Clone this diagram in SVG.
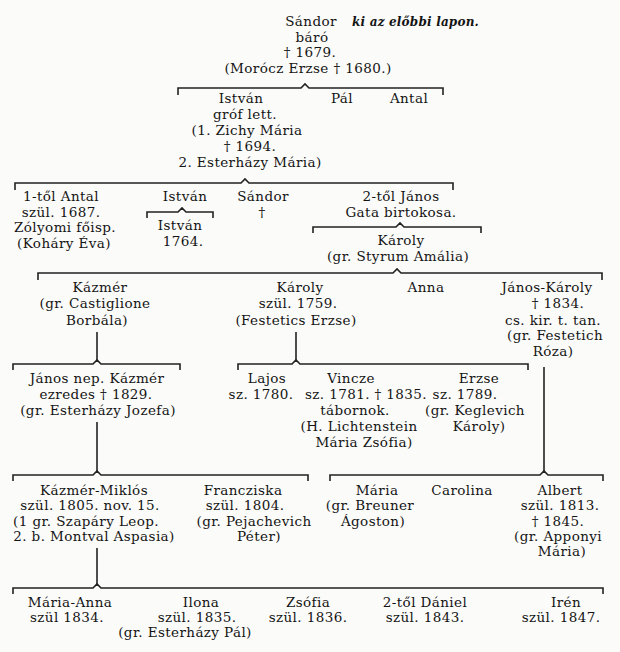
<svg xmlns="http://www.w3.org/2000/svg" width="620" height="652" viewBox="0 0 620 652">
<style>
text{font-family:"DejaVu Serif","Liberation Serif",serif;font-size:13.5px;letter-spacing:0.4px;fill:#141414;text-anchor:middle}
.it{font-style:italic;font-weight:bold;font-size:12px;letter-spacing:0.2px;text-anchor:start}
.br{fill:none;stroke:#222;stroke-width:1.6}
</style>
<rect width="620" height="652" fill="#fbfbf9"/>
<g id="connectors" class="br">
<path d="M178 95V88H301L305 84L309 88H443V95"/>
<path d="M15 190V183H241L245 179L249 183H453V190"/>
<path d="M147 218V212H178L182 208L186 212H213V218"/>
<path d="M313 233V227H396L400 223L404 227H481V233"/>
<path d="M38 280V273H393L397 269L401 273H602V280"/>
<path d="M97 332V361"/>
<path d="M296 332V361"/>
<path d="M13 370V364H93L97 360L101 364H180V370"/>
<path d="M238 370V364H292L296 360L300 364H528V370"/>
<path d="M97 422V472"/>
<path d="M544 367V472"/>
<path d="M13 481V475H93L97 471L101 475H308V481"/>
<path d="M330 481V475H540L544 471L548 475H603V481"/>
<path d="M97 548V584"/>
<path d="M13 594V588H93L97 584L101 588H603V594"/>
</g>
<g id="sandor">
<text x="311" y="26">Sándor</text>
<text x="312" y="42">báró</text>
<text x="310" y="57">† 1679.</text>
<text x="308" y="73">(Morócz Erzse † 1680.)</text>
</g>
<g id="note"><text class="it" x="352" y="26">ki az előbbi lapon.</text></g>
<g id="istvan1">
<text x="241" y="103">István</text>
<text x="245" y="119">gróf lett.</text>
<text x="247" y="135">(1. Zichy Mária</text>
<text x="250" y="151">† 1694.</text>
<text x="250" y="167">2. Esterházy Mária)</text>
</g>
<g id="pal"><text x="342" y="103">Pál</text></g>
<g id="antal1"><text x="409" y="103">Antal</text></g>
<g id="antal2">
<text x="61" y="201">1-től Antal</text>
<text x="61" y="217">szül. 1687.</text>
<text x="65" y="232">Zólyomi főisp.</text>
<text x="64" y="248">(Koháry Éva)</text>
</g>
<g id="istvan2"><text x="185" y="201">István</text></g>
<g id="istvan3">
<text x="180" y="230">István</text>
<text x="183" y="246">1764.</text>
</g>
<g id="sandor2">
<text x="263" y="201">Sándor</text>
<text x="262" y="217">†</text>
</g>
<g id="janos1">
<text x="401" y="201">2-től János</text>
<text x="401" y="217">Gata birtokosa.</text>
</g>
<g id="karoly1">
<text x="401" y="245">Károly</text>
<text x="398" y="261">(gr. Styrum Amália)</text>
</g>
<g id="kazmer1">
<text x="100" y="292">Kázmér</text>
<text x="95" y="308">(gr. Castiglione</text>
<text x="97" y="325">Borbála)</text>
</g>
<g id="karoly2">
<text x="300" y="292">Károly</text>
<text x="298" y="308">szül. 1759.</text>
<text x="296" y="325">(Festetics Erzse)</text>
</g>
<g id="anna"><text x="426" y="292">Anna</text></g>
<g id="janoskaroly">
<text x="547" y="292">János-Károly</text>
<text x="558" y="308">† 1834.</text>
<text x="553" y="325">cs. kir. t. tan.</text>
<text x="555" y="340">(gr. Festetich</text>
<text x="553" y="356">Róza)</text>
</g>
<g id="janosnep">
<text x="97" y="383">János nep. Kázmér</text>
<text x="96" y="399">ezredes † 1829.</text>
<text x="98" y="415">(gr. Esterházy Jozefa)</text>
</g>
<g id="lajos">
<text x="267" y="383">Lajos</text>
<text x="261" y="399">sz. 1780.</text>
</g>
<g id="vincze">
<text x="351" y="383">Vincze</text>
<text x="366" y="399">sz. 1781. † 1835.</text>
<text x="355" y="415">tábornok.</text>
<text x="359" y="431">(H. Lichtenstein</text>
<text x="364" y="447">Mária Zsófia)</text>
</g>
<g id="erzse">
<text x="479" y="383">Erzse</text>
<text x="465" y="399">sz. 1789.</text>
<text x="475" y="415">(gr. Keglevich</text>
<text x="479" y="431">Károly)</text>
</g>
<g id="kazmermiklos">
<text x="94" y="495">Kázmér-Miklós</text>
<text x="90" y="510">szül. 1805. nov. 15.</text>
<text x="86" y="526">(1 gr. Szapáry Leop.</text>
<text x="94" y="541">2. b. Montval Aspasia)</text>
</g>
<g id="franciska">
<text x="243" y="495">Francziska</text>
<text x="245" y="510">szül. 1804.</text>
<text x="254" y="526">(gr. Pejachevich</text>
<text x="259" y="541">Péter)</text>
</g>
<g id="maria1">
<text x="377" y="495">Mária</text>
<text x="370" y="510">(gr. Breuner</text>
<text x="373" y="526">Ágoston)</text>
</g>
<g id="carolina"><text x="462" y="495">Carolina</text></g>
<g id="albert">
<text x="560" y="495">Albert</text>
<text x="560" y="510">szül. 1813.</text>
<text x="558" y="526">† 1845.</text>
<text x="558" y="541">(gr. Apponyi</text>
<text x="562" y="556">Mária)</text>
</g>
<g id="mariaanna">
<text x="70" y="607">Mária-Anna</text>
<text x="67" y="622">szül 1834.</text>
</g>
<g id="ilona">
<text x="201" y="607">Ilona</text>
<text x="197" y="622">szül. 1835.</text>
<text x="185" y="637">(gr. Esterházy Pál)</text>
</g>
<g id="zsofia">
<text x="308" y="607">Zsófia</text>
<text x="308" y="622">szül. 1836.</text>
</g>
<g id="daniel">
<text x="425" y="607">2-től Dániel</text>
<text x="425" y="622">szül. 1843.</text>
</g>
<g id="iren">
<text x="566" y="607">Irén</text>
<text x="561" y="622">szül. 1847.</text>
</g>
</svg>
